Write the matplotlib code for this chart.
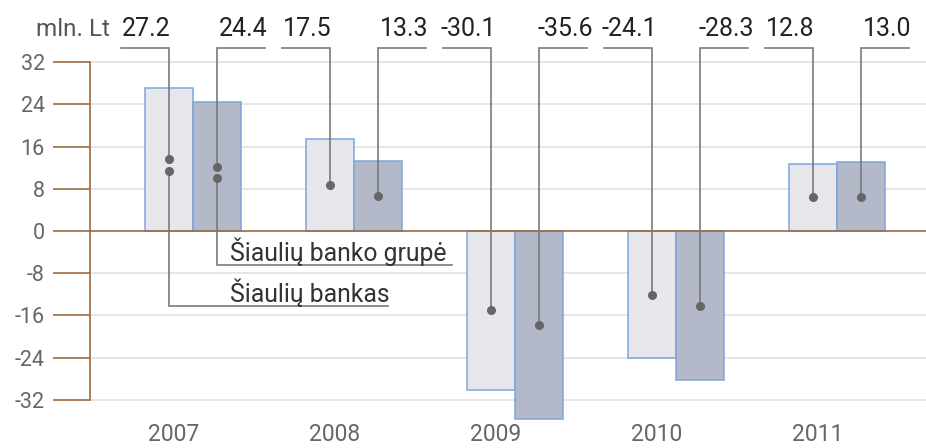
import matplotlib
matplotlib.use("Agg")
import matplotlib.pyplot as plt
import numpy as np

# ---- data ----
years = ["2007", "2008", "2009", "2010", "2011"]
bankas = [27.2, 17.5, -30.1, -24.1, 12.8]
grupe = [24.4, 13.3, -35.6, -28.3, 13.0]
series_names = ["Šiaulių bankas", "Šiaulių banko grupė"]
yticks = [-32, -24, -16, -8, 0, 8, 16, 24, 32]
unit_label = "mln. Lt"

plt.rcParams['font.family'] = ['Roboto', 'DejaVu Sans']

W, H = 926, 448
fig = plt.figure(figsize=(W / 100, H / 100), dpi=100)
ax = fig.add_axes([90 / W, 1 - 434 / H, (W - 90) / W, (434 - 57) / H])

x = np.arange(len(years))
bw = 0.30
fill_bank = "#E6E7EB"
fill_group = "#B3B9C8"
edge = "#7BA6DA"
brown = "#9C6B3F"
lead = "#7a7a7a"
dotc = "#666666"

ax.set_xlim(-0.64, 4.553)
ax.set_ylim(-38.5, 33)

for t in yticks:
    if t != 0:
        ax.axhline(t, color="#E2E2E2", lw=1.2, zorder=0)
ax.axhline(0, color=brown, lw=1.2, zorder=3)

xb = x - bw / 2
xg = x + bw / 2
ax.bar(xb, bankas, width=bw, color=fill_bank, edgecolor=edge, linewidth=1.1, zorder=2)
ax.bar(xg, grupe, width=bw, color=fill_group, edgecolor=edge, linewidth=1.1, zorder=2)

label_line_y = 34.7
label_text_y = 36.9
for i in range(len(years)):
    for xc, v, side in ((xb[i], bankas[i], -1), (xg[i], grupe[i], 1)):
        x0 = xc + side * bw
        ax.plot([x0, xc, xc], [label_line_y, label_line_y, v / 2], color=lead, lw=1.2,
                zorder=4, clip_on=False, solid_joinstyle='miter')
        ax.plot([xc], [v / 2], 'o', color=dotc, ms=5.5, zorder=5)
        ax.text((x0 + xc) / 2 + 0.01, label_text_y, f"{v:.1f}", ha="center", va="baseline",
                fontsize=18, color="#222222", clip_on=False)

# legend leaders (layout)
leg_dot = [11.4, 10.0]
leg_line_y = [-14.2, -6.45]
leg_end_x = [1.21, 1.61]
leg_text_x = 0.23
for xc, d, ly, ex, name in ((xb[0], leg_dot[0], leg_line_y[0], leg_end_x[0], series_names[0]),
                            (xg[0], leg_dot[1], leg_line_y[1], leg_end_x[1], series_names[1])):
    ax.plot([xc, xc, ex], [d, ly, ly], color=lead, lw=1.2, zorder=4, solid_joinstyle='miter')
    ax.plot([xc], [d], 'o', color=dotc, ms=5.5, zorder=5)
    ax.text(leg_text_x, ly + 0.75, name, ha="left", va="baseline", fontsize=17.8,
            color="#333333", zorder=6)

ax.text(-0.975, 36.9, unit_label, ha="left", va="baseline", fontsize=17.5, color="#555555",
        clip_on=False)

for s in ["top", "right", "bottom"]:
    ax.spines[s].set_visible(False)
ax.spines["left"].set_color(brown)
ax.spines["left"].set_linewidth(1.2)
ax.spines["left"].set_bounds(-32, 32)

ax.set_yticks(yticks)
ax.set_yticklabels([str(t) for t in yticks])
ax.tick_params(axis="y", length=26.5, width=1.2, color=brown, pad=6, labelsize=15.5,
               labelcolor="#666666")
ax.set_xticks(x - 0.12)
ax.set_xticklabels(years)
ax.tick_params(axis="x", length=0, pad=-8, labelsize=16.5, labelcolor="#666666")

fig.savefig("out.png", dpi=100)
